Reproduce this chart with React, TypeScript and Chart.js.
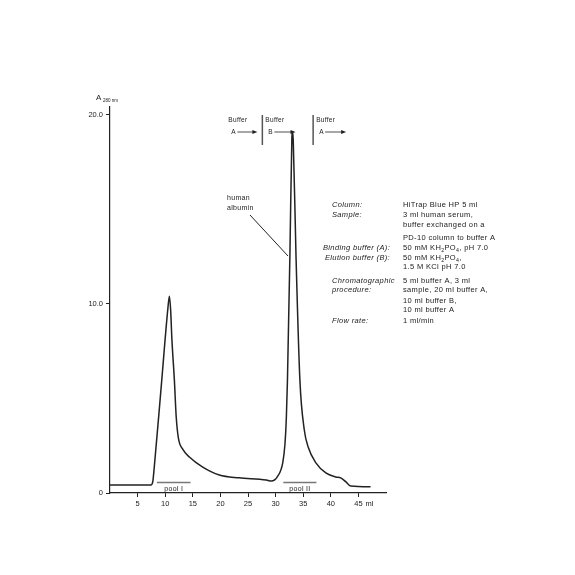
import React, { useEffect, useRef } from "react";
import { Chart, registerables } from "chart.js";
Chart.register(...registerables);

// Elution volume (ml) and absorbance at 280 nm
const volumeMl = [0, 7.4, 7.75, 8.0, 9.3, 10.5, 10.76, 11.0, 11.2, 11.66, 12.0, 12.39, 13.2, 14.38, 16.73, 19.8, 23.4, 28.3, 29.2, 30.3, 31.3, 31.7, 31.95, 32.15, 32.6, 32.95, 33.06, 33.2, 33.7, 34.4, 35.2, 35.9, 37.3, 39.1, 40.9, 41.8, 42.7, 43.6, 46.9, 47.2];
const absorbance = [0.42, 0.42, 0.6, 1.3, 5.7, 9.8, 10.4, 9.6, 8.2, 5.98, 4.0, 2.9, 2.3, 1.9, 1.38, 0.95, 0.8, 0.69, 0.63, 0.85, 1.6, 2.6, 4.0, 5.98, 12.7, 18.8, 19.1, 18.6, 12.5, 5.98, 3.33, 2.43, 1.59, 1.06, 0.85, 0.8, 0.6, 0.37, 0.33, 0.33];

const xTicks = [5, 10, 15, 20, 25, 30, 35, 40, 45];
const yTicks = [0, 10, 20];

const poolLabels = ["pool I", "pool II"];
const poolStart = [8.5, 31.4];
const poolEnd = [14.6, 37.4];
const poolLevel = 0.55;

const bufferLabels = ["A", "B", "A"];
const bufferSwitches = [27.6, 36.8];

const infoLabels = ["Column:", "Sample:", "", "", "Binding buffer (A):", "Elution buffer (B):", "", "Chromatographic", "procedure:", "", "", "Flow rate:"];
const infoValues = ["HiTrap Blue HP 5 ml", "3 ml human serum,", "buffer exchanged on a", "PD-10 column to buffer A", "50 mM KH{2}PO{4}, pH 7.0", "50 mM KH{2}PO{4},", "1.5 M KCl pH 7.0", "5 ml buffer A, 3 ml", "sample, 20 ml buffer A,", "10 ml buffer B,", "10 ml buffer A", "1 ml/min"];

const FONT = '"Liberation Sans", Arial, sans-serif';
const INK = "#222";

function drawRich(ctx: CanvasRenderingContext2D, text: string, x: number, y: number, size: number) {
  const parts = text.split(/(\{[^}]*\})/);
  let cx = x;
  for (const p of parts) {
    if (!p) continue;
    if (p.startsWith("{")) {
      const t = p.slice(1, -1);
      ctx.font = `${size * 0.7}px ${FONT}`;
      ctx.fillText(t, cx, y + size * 0.3);
      cx += ctx.measureText(t).width;
    } else {
      ctx.font = `${size}px ${FONT}`;
      ctx.fillText(p, cx, y);
      cx += ctx.measureText(p).width;
    }
  }
}

function arrow(ctx: CanvasRenderingContext2D, x1: number, x2: number, y: number) {
  ctx.beginPath();
  ctx.moveTo(x1, y);
  ctx.lineTo(x2 - 3, y);
  ctx.stroke();
  ctx.beginPath();
  ctx.moveTo(x2, y);
  ctx.lineTo(x2 - 5, y - 2);
  ctx.lineTo(x2 - 5, y + 2);
  ctx.closePath();
  ctx.fill();
}

const annotPlugin = {
  id: "annot",
  afterDraw(chart: any) {
    const ctx: any = chart.ctx;
    const xs = chart.scales.x;
    const ys = chart.scales.y;
    ctx.save();
    ctx.fillStyle = INK;
    ctx.strokeStyle = INK;
    ctx.textBaseline = "middle";
    ctx.textAlign = "left";

    // y axis title A280 nm
    ctx.font = `8px ${FONT}`;
    ctx.fillText("A", 96, 98);
    ctx.font = `4.5px ${FONT}`;
    ctx.fillText("280 nm", 103, 100.5);

    // ml unit
    ctx.font = `7.5px ${FONT}`;
    ctx.fillText("ml", xs.getPixelForValue(45) + 7, 504);

    ctx.letterSpacing = "0.3px";
    // pool labels
    ctx.textAlign = "center";
    ctx.font = `7px ${FONT}`;
    poolLabels.forEach((l, i) => {
      const cx = (xs.getPixelForValue(poolStart[i]) + xs.getPixelForValue(poolEnd[i])) / 2;
      ctx.fillText(l, cx, ys.getPixelForValue(poolLevel) + 6);
    });
    ctx.textAlign = "left";

    // buffer markers
    const b1 = xs.getPixelForValue(bufferSwitches[0]);
    const b2 = xs.getPixelForValue(bufferSwitches[1]);
    const lefts = [b1 - 34, b1 + 3, b2 + 3];
    const ends = [b1 - 5, xs.getPixelForValue(33.6), b2 + 33];
    ctx.strokeStyle = "#555";
    ctx.lineWidth = 1.5;
    [b1, b2].forEach((bx) => {
      ctx.beginPath();
      ctx.moveTo(bx, 115);
      ctx.lineTo(bx, 145);
      ctx.stroke();
    });
    ctx.strokeStyle = INK;
    ctx.lineWidth = 0.8;
    bufferLabels.forEach((l, i) => {
      ctx.font = `6.5px ${FONT}`;
      ctx.fillText("Buffer", lefts[i], 120);
      ctx.fillText(l, lefts[i] + 3, 132);
      arrow(ctx, lefts[i] + 9, ends[i], 132);
    });

    // human albumin
    ctx.font = `7px ${FONT}`;
    ctx.fillText("human", 227, 198);
    ctx.fillText("albumin", 227, 208);
    ctx.lineWidth = 1;
    ctx.beginPath();
    ctx.moveTo(250, 215);
    ctx.lineTo(288, 256);
    ctx.stroke();

    // info panel
    ctx.letterSpacing = "0.35px";
    const rows = [205, 215, 225, 237.5, 248, 258, 267, 280.5, 290, 301, 310, 321];
    const labelX = [332, 332, 332, 332, 323, 325, 332, 332, 332, 332, 332, 332];
    rows.forEach((y, i) => {
      if (infoLabels[i]) {
        ctx.font = `italic 7.5px ${FONT}`;
        ctx.fillText(infoLabels[i], labelX[i], y);
      }
      drawRich(ctx, infoValues[i], 403, y, 7.5);
    });
    ctx.restore();
  },
};

export default function App() {
  const ref = useRef<HTMLCanvasElement>(null);
  useEffect(() => {
    if (!ref.current) return;
    const pools = poolStart.map((s, i) => ({
      data: [
        { x: s, y: poolLevel },
        { x: poolEnd[i], y: poolLevel },
      ],
      borderColor: "#777",
      borderWidth: 1.5,
      pointRadius: 0,
    }));
    const chart = new Chart(ref.current, {
      type: "line",
      data: {
        datasets: [
          {
            data: volumeMl.map((v, i) => ({ x: v, y: absorbance[i] })),
            borderColor: INK,
            borderWidth: 1.5,
            pointRadius: 0,
            cubicInterpolationMode: "monotone",
            fill: false,
          },
          ...pools,
        ],
      },
      options: {
        responsive: false,
        animation: false,
        layout: { padding: { top: 107, right: 189, left: 0, bottom: 0 } },
        plugins: { legend: { display: false }, tooltip: { enabled: false } },
        scales: {
          x: {
            type: "linear",
            min: 0,
            max: 50,
            afterFit: (s: any) => {
              s.height = 82;
            },
            afterBuildTicks: (s: any) => {
              s.ticks = xTicks.map((v) => ({ value: v }));
            },
            ticks: { color: INK, font: { size: 7.5, family: FONT }, padding: 2, maxRotation: 0, autoSkip: false },
            grid: { drawOnChartArea: false, drawTicks: true, tickLength: 4, color: INK, lineWidth: 1 },
            border: { display: true, color: INK, width: 1.2 },
          },
          y: {
            type: "linear",
            min: 0,
            max: 20.4,
            afterFit: (s: any) => {
              s.width = 110;
            },
            afterBuildTicks: (s: any) => {
              s.ticks = yTicks.map((v) => ({ value: v }));
            },
            ticks: {
              color: INK,
              font: { size: 7.5, family: FONT },
              padding: 3,
              callback: (v: any) => (v === 0 ? "0" : Number(v).toFixed(1)),
            },
            grid: { drawOnChartArea: false, drawTicks: true, tickLength: 4, color: INK, lineWidth: 1 },
            border: { display: true, color: INK, width: 1.2 },
          },
        },
      },
      plugins: [annotPlugin],
    } as any);
    return () => chart.destroy();
  }, []);
  return (
    <div style={{ position: "fixed", left: 0, top: 0, width: 575, height: 575, background: "#fff" }}>
      <canvas ref={ref} width={575} height={575} />
    </div>
  );
}
